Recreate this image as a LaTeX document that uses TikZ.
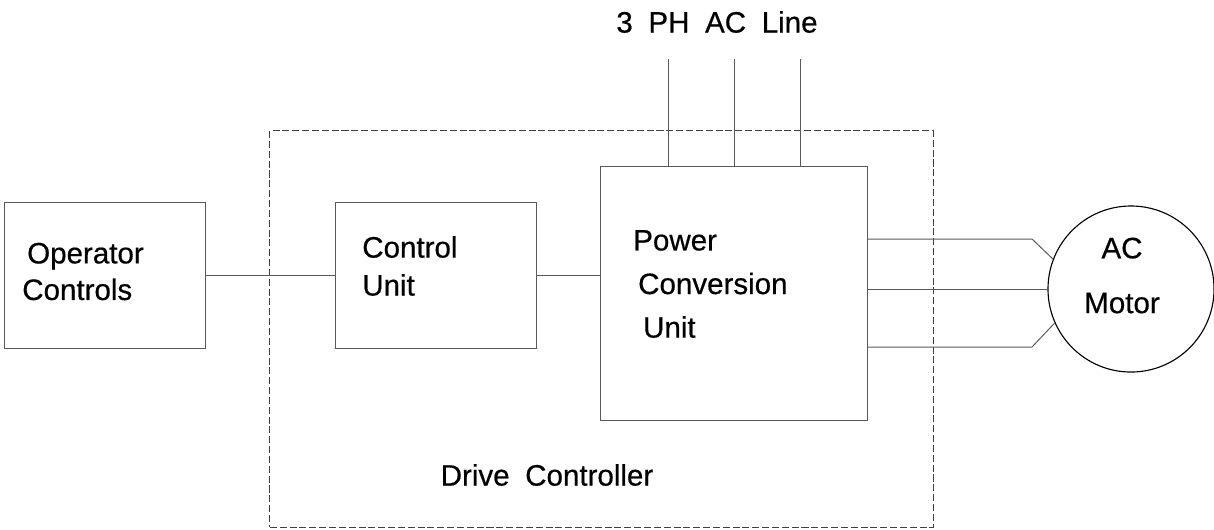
\documentclass[tikz,border=0pt]{standalone}
\usepackage{fontspec}
\setmainfont{Liberation Sans}[FakeBold=0.5]
\usetikzlibrary{positioning, calc}

\newcommand{\wsp}{\hspace{0.53em}}

\begin{document}
\begin{tikzpicture}[
    x=0.025cm, y=-0.025cm,
    block/.style={draw=black!65, line width=0.7pt, minimum width=5cm, minimum height=3.625cm, inner sep=0pt},
    boundary/.style={draw=black!75, line width=0.7pt, dash pattern=on 5pt off 2pt, minimum width=16.575cm, minimum height=9.9cm, inner sep=0pt},
    motorbg/.style={draw=black, line width=0.8pt, circle, minimum size=4.15cm, inner sep=0pt},
    wire/.style={draw=black!65, line width=0.7pt},
    lbl/.style={font=\fontsize{21}{26}\selectfont, align=left, inner sep=0pt}
]

\useasboundingbox (0,0) rectangle (1214,529);

% Drive controller boundary
\node[boundary] (drv) at (601.5,329) {};
\node[lbl] (drvtxt) at (547,475) {Drive\wsp Controller};

% Blocks
\node[block] (op) at (105,275.5) {};
\node[block] (cu) at (436,275.5) {};
\node[block, minimum width=6.65cm, minimum height=6.325cm] (pcu) at (734,293.5) {};
\node[motorbg] (motor) at (1131,289) {};

% Block texts
\node[lbl, anchor=west] (optxt) at (22,271.5) {\,Operator\\Controls};
\node[lbl, anchor=west, font=\fontsize{21}{27}\selectfont] (cutxt) at (362,266) {Control\\Unit};
\node[lbl, anchor=west, font=\fontsize{21}{31}\selectfont] (pcutxt) at (633,284) {Power\\\,Conversion\\\,\,Unit};
\node[lbl, align=center, font=\fontsize{21}{39}\selectfont] (mtxt) at (1122,275.5) {AC\\Motor};

% 3 phase supply
\node[lbl] (line) at (717,22) {3\wsp PH\wsp AC\wsp Line};
\coordinate (l1) at (668,59);
\coordinate (l2) at (734,59);
\coordinate (l3) at (800,59);
\foreach \l in {l1,l2,l3}
    \draw[wire] (\l) -- (\l |- pcu.north);

% Signal connections
\draw[wire] (op.east) -- (cu.west);
\draw[wire] (cu.east) -- (cu.east -| pcu.west);

% Motor leads
\coordinate (k1) at (1032,239);
\coordinate (k3) at (1032,347);
\draw[wire] (k1 -| pcu.east) -- (k1) -- (motor.159);
\draw[wire] (pcu.east |- motor.west) -- (motor.west);
\draw[wire] (k3 -| pcu.east) -- (k3) -- (motor.204);

\end{tikzpicture}
\end{document}
